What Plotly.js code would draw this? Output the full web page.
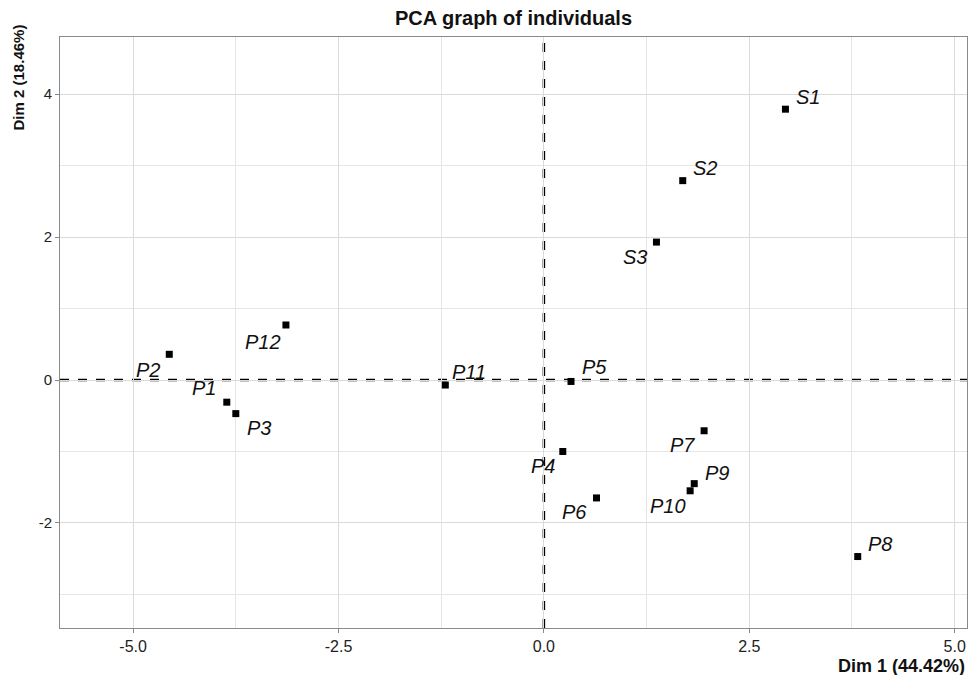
<!DOCTYPE html>
<html>
<head>
<meta charset="utf-8">
<script src="https://cdn.plot.ly/plotly-3.0.1.min.js"></script>
<style>html,body{margin:0;padding:0;background:#fff;}#chart{width:971px;height:675px;}</style>
</head>
<body>
<div id="chart"></div>
<script>
// Data
const names = ["S1","S2","S3","P1","P2","P3","P4","P5","P6","P7","P8","P9","P10","P11","P12"];
const dim1  = [2.94, 1.69, 1.37, -3.86, -4.56, -3.75, 0.23, 0.33, 0.64, 1.95, 3.82, 1.83, 1.78, -1.20, -3.14];
const dim2  = [3.79, 2.79, 1.93, -0.31, 0.36, -0.47, -1.00, -0.02, -1.65, -0.71, -2.47, -1.45, -1.55, -0.07, 0.77];
const xTicks = [-5.0, -2.5, 0.0, 2.5, 5.0];
const yTicks = [-2, 0, 2, 4];
const titleText = "PCA graph of individuals";
const xTitle = "Dim 1 (44.42%)";
const yTitle = "Dim 2 (18.46%)";
const origin = 0;

// label offsets (pixels, screen right / screen down), mimicking the repelled labels
const labelDx = [23, 22, -21, -23, -21, 23, -20, 23, -22, -22, 22, 23, -22, 24, -23];
const labelDy = [-12, -13, 15, -14, 16, 14, 15, -14, 14, 14, -13, -11, 15, -13, 17];

const trace = {
  x: dim1, y: dim2, mode: "markers", type: "scatter",
  marker: {symbol: "square", size: 7, color: "#000"},
  hoverinfo: "text", text: names, showlegend: false
};

const annotations = names.map((n, i) => ({
  x: dim1[i], y: dim2[i], xref: "x", yref: "y", text: n, showarrow: false,
  xshift: labelDx[i], yshift: -labelDy[i],
  font: {family: "Liberation Sans, Arial, sans-serif", size: 20, style: "italic", color: "#111"}
}));

annotations.push({
  xref: "paper", yref: "paper", x: 1, y: -0.064, xanchor: "right", yanchor: "middle",
  text: xTitle, showarrow: false,
  font: {family: "Liberation Sans, Arial, sans-serif", size: 18, weight: "bold", color: "#111"}
});
annotations.push({
  xref: "paper", yref: "paper", x: 0, xshift: -42, y: 0.9315, xanchor: "center", yanchor: "middle",
  text: yTitle, showarrow: false, textangle: -90,
  font: {family: "Liberation Sans, Arial, sans-serif", size: 15, weight: "bold", color: "#111"}
});

const gridMajor = "#dadada";
const gridMinor = "#e6e6e6";

const layout = {
  width: 971, height: 675,
  margin: {l: 60, r: 4, t: 37, b: 47},
  paper_bgcolor: "#fff", plot_bgcolor: "#fff",
  title: {
    text: titleText, x: 0.5, xref: "paper", xanchor: "center",
    y: 1 - 18/675, yref: "container", yanchor: "middle",
    font: {family: "Liberation Sans, Arial, sans-serif", size: 20, weight: "bold", color: "#111"}
  },
  xaxis: {
    range: [-5.89, 5.15], tickvals: xTicks, ticktext: xTicks.map(v => v.toFixed(1)),
    showgrid: true, gridcolor: gridMajor, gridwidth: 1,
    minor: {dtick: 1.25, tick0: 0, showgrid: true, gridcolor: gridMinor, gridwidth: 1, ticks: ""},
    zeroline: false, showline: true, mirror: true, linecolor: "#8a8a8a", linewidth: 1,
    ticks: "outside", ticklen: 4, tickcolor: "#8a8a8a",
    tickfont: {family: "Liberation Sans, Arial, sans-serif", size: 16, color: "#222"}
  },
  yaxis: {
    range: [-3.47, 4.80], tickvals: yTicks, ticktext: yTicks.map(String),
    showgrid: true, gridcolor: gridMajor, gridwidth: 1,
    minor: {dtick: 1, tick0: 0, showgrid: true, gridcolor: gridMinor, gridwidth: 1, ticks: ""},
    zeroline: false, showline: true, mirror: true, linecolor: "#8a8a8a", linewidth: 1,
    ticks: "outside", ticklen: 4, tickcolor: "#8a8a8a",
    tickfont: {family: "Liberation Sans, Arial, sans-serif", size: 15, color: "#222"}
  },
  shapes: [
    {type: "line", xref: "x", yref: "paper", x0: origin, x1: origin, y0: 0, y1: 1,
     line: {color: "#000", width: 2.5, dash: "dash"}, layer: "below"},
    {type: "line", xref: "paper", yref: "y", x0: 0, x1: 1, y0: origin, y1: origin,
     line: {color: "#000", width: 2.5, dash: "dash"}, layer: "below"}
  ],
  annotations: annotations
};

Plotly.newPlot("chart", [trace], layout, {displayModeBar: false, staticPlot: true});
</script>
</body>
</html>
